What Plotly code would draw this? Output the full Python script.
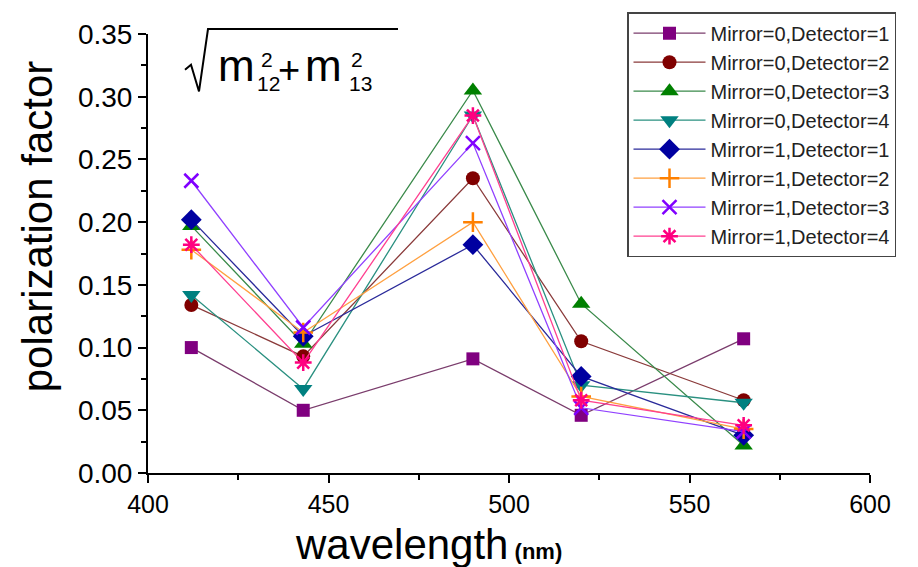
import plotly.graph_objects as go

# Wavelength bands (nm)
wavelength = [412, 443, 490, 520, 565]

# Polarization factor sqrt(m12^2 + m13^2) per mirror/detector configuration
m0_d1 = [0.100, 0.050, 0.091, 0.046, 0.107]
m0_d2 = [0.134, 0.093, 0.235, 0.105, 0.058]
m0_d3 = [0.197, 0.103, 0.305, 0.135, 0.022]
m0_d4 = [0.142, 0.067, 0.285, 0.070, 0.056]
m1_d1 = [0.202, 0.109, 0.182, 0.077, 0.030]
m1_d2 = [0.178, 0.112, 0.200, 0.061, 0.035]
m1_d3 = [0.233, 0.116, 0.263, 0.052, 0.033]
m1_d4 = [0.182, 0.088, 0.285, 0.058, 0.038]

series_names = [
    "Mirror=0,Detector=1", "Mirror=0,Detector=2", "Mirror=0,Detector=3", "Mirror=0,Detector=4",
    "Mirror=1,Detector=1", "Mirror=1,Detector=2", "Mirror=1,Detector=3", "Mirror=1,Detector=4",
]
series_values = [m0_d1, m0_d2, m0_d3, m0_d4, m1_d1, m1_d2, m1_d3, m1_d4]

styles = [
    dict(color="#800080", line="#7a3c6c", symbol="square", size=13),
    dict(color="#800000", line="#8a3a3a", symbol="circle", size=14),
    dict(color="#008000", line="#3a8a4a", symbol="triangle-up", size=16),
    dict(color="#008080", line="#2a9080", symbol="triangle-down", size=16),
    dict(color="#0000a0", line="#2a2a9a", symbol="diamond", size=16),
    dict(color="#ff8000", line="#ffa040", symbol="cross-thin", size=14),
    dict(color="#8000ff", line="#9040ff", symbol="x-thin", size=14),
    dict(color="#ff0080", line="#ff4090", symbol="asterisk", size=14),
]

fig = go.Figure()
for name, vals, st in zip(series_names, series_values, styles):
    thin = st["symbol"] in ("cross-thin", "x-thin", "asterisk")
    fig.add_trace(go.Scatter(
        x=wavelength, y=vals, name=name, mode="lines+markers",
        line=dict(color=st["line"], width=1.3),
        marker=dict(symbol=st["symbol"], size=st["size"], color=st["color"],
                    line=dict(color=st["color"], width=2.5 if thin else 0)),
    ))

# Plot-area geometry in pixels, used to place the formula and titles
L, R, T, B = 148, 870, 30, 473
W, H = R - L, B - T


def px(x):
    return (x - L) / W


def py(y):
    return (B - y) / H


FAM = "Liberation Sans, Arial"
ann = []


def label(x, y, text, size, **kw):
    ann.append(dict(x=px(x), y=py(y), xref="paper", yref="paper", text=text,
                    font=dict(size=size, family=FAM, color="black"),
                    xanchor="center", yanchor="middle", showarrow=False, **kw))


# Formula sqrt(m12^2 + m13^2): radicand text
label(236, 62, "m", 44)
label(267, 56, "2", 21)
label(268, 80, "12", 21)
label(289, 66, "+", 38)
label(323, 62, "m", 44)
label(357, 56, "2", 21)
label(360, 80, "13", 21)

# Axis titles
label(37, 224, "polarization factor", 42, textangle=-90)
label(428, 545, "wavelength<b><span style='font-size:22px'> (nm)</span></b>", 42)

# Radical sign with its overbar
radical_pts = [(185, 66), (191, 61), (199, 88), (208, 25), (398, 25)]
radical_path = "M " + " L ".join(f"{px(x):.5f},{py(y):.5f}" for x, y in radical_pts)

fig.update_layout(
    width=918, height=567,
    margin=dict(l=L, r=918 - R, t=T, b=567 - B),
    paper_bgcolor="white", plot_bgcolor="white",
    font=dict(family=FAM, color="black"),
    annotations=ann,
    shapes=[dict(type="path", xref="paper", yref="paper", path=radical_path,
                 line=dict(color="black", width=2))],
    legend=dict(x=px(627), y=py(8), xanchor="left", yanchor="top",
                bgcolor="white", bordercolor="#444444", borderwidth=1.5,
                font=dict(size=20, family=FAM, color="#222222"),
                itemwidth=72, tracegroupgap=0),
    showlegend=True,
)

fig.update_xaxes(
    range=[400, 600], dtick=50, tick0=400, showgrid=False, zeroline=False,
    showline=True, linecolor="black", linewidth=2,
    ticks="outside", ticklen=8, tickwidth=2, tickcolor="black",
    tickfont=dict(size=25, family=FAM, color="black"),
    minor=dict(dtick=25, ticks="outside", ticklen=5, tickwidth=1.5, tickcolor="black"),
)
fig.update_yaxes(
    range=[0, 0.35], dtick=0.05, tick0=0, tickformat=".2f", showgrid=False, zeroline=False,
    showline=True, linecolor="black", linewidth=2,
    ticks="outside", ticklen=8, tickwidth=2, tickcolor="black",
    tickfont=dict(size=28, family=FAM, color="black"),
    minor=dict(dtick=0.025, ticks="outside", ticklen=5, tickwidth=1.5, tickcolor="black"),
)

fig.write_html("out.html")
